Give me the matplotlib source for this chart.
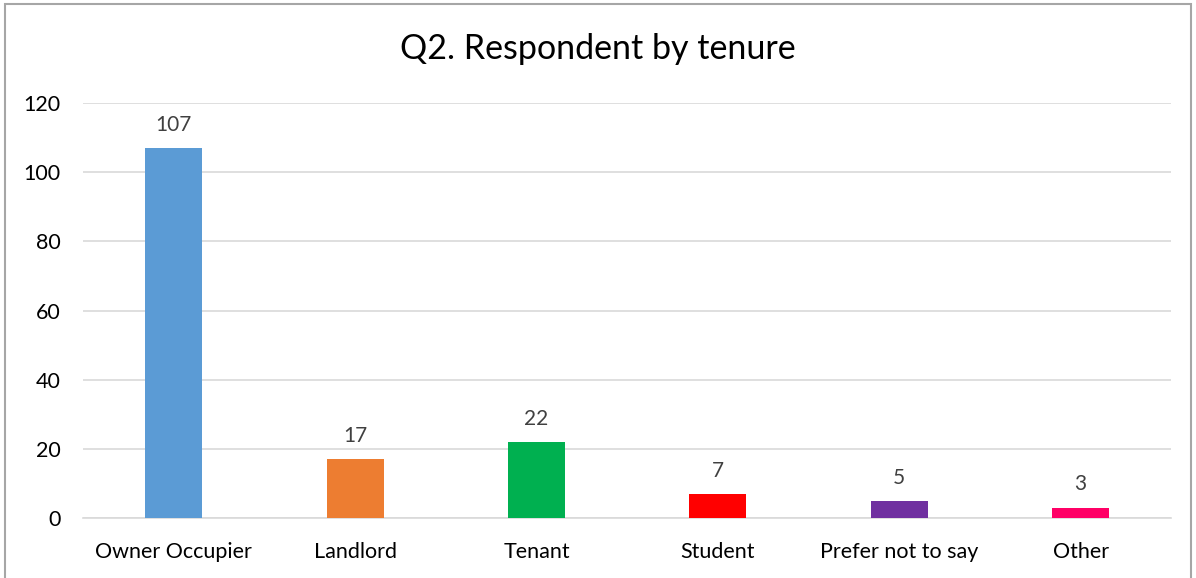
import matplotlib
matplotlib.use('Agg')
import matplotlib.pyplot as plt
from matplotlib.patches import Rectangle

categories = ['Owner Occupier', 'Landlord', 'Tenant', 'Student', 'Prefer not to say', 'Other']
counts = [107, 17, 22, 7, 5, 3]
colors = ['#5B9BD5', '#ED7D31', '#00B050', '#FF0000', '#7030A0', '#FF0066']
yticks = [0, 20, 40, 60, 80, 100, 120]

plt.rcParams['font.family'] = ['Lato', 'DejaVu Sans']

fig = plt.figure(figsize=(11.96, 5.78), dpi=100)
ax = fig.add_axes([0.0694, 0.1038, 0.910, 0.718])

x = range(len(categories))
ax.bar(x, counts, width=0.315, color=colors, zorder=3)
for xi, v in zip(x, counts):
    ax.text(xi, v + 3.8, str(v), ha='center', va='bottom', fontsize=15, color='#404040')

ax.set_xlim(-0.5, len(categories) - 0.5)
ax.set_ylim(0, 120)
ax.set_yticks(yticks)
ax.set_xticks(list(x))
ax.set_xticklabels(categories)
ax.tick_params(axis='both', length=0, labelsize=15.5, colors='black')
ax.tick_params(axis='x', pad=17)
ax.tick_params(axis='y', pad=16)
ax.grid(axis='y', color='#D9D9D9', linewidth=1.2, zorder=0)
for s in ['top', 'right', 'left']:
    ax.spines[s].set_visible(False)
ax.spines['bottom'].set_color('#D9D9D9')
ax.spines['bottom'].set_linewidth(1.2)

fig.text(0.5, 0.915, 'Q2. Respondent by tenure', ha='center', va='center', fontsize=24.5)

fig.add_artist(Rectangle((5 / 1196, -0.01), 1186 / 1196, 1 - 4 / 578 + 0.01,
                         transform=fig.transFigure, fill=False, edgecolor='#A6A6A6', linewidth=1.5))

fig.savefig('out.png', dpi=100)
